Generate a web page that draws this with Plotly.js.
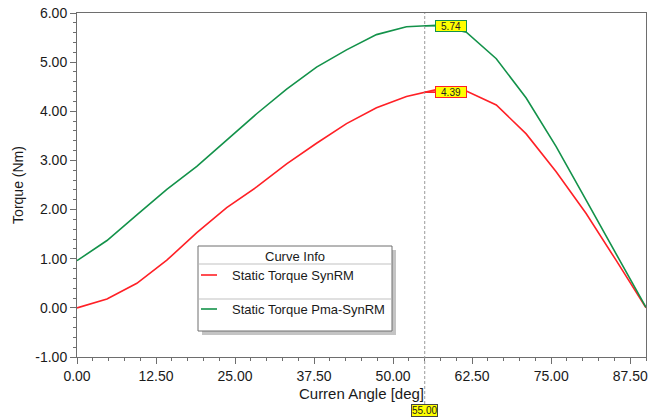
<!DOCTYPE html>
<html>
<head>
<meta charset="utf-8">
<script src="https://cdn.plot.ly/plotly-3.0.1.min.js"></script>
<style>
  html, body { margin: 0; padding: 0; background: #ffffff; }
  #chart { width: 660px; height: 418px; }
</style>
</head>
<body>
<div id="chart"></div>
<script>
// ---- data ----
const angleDeg = [0, 4.74, 9.47, 14.21, 18.95, 23.68, 28.42, 33.16, 37.89, 42.63, 47.37, 52.11, 56.84, 61.58, 66.32, 71.05, 75.79, 80.53, 85.26, 90];
const torqueSynRM = [0, 0.18, 0.50, 0.97, 1.53, 2.04, 2.46, 2.93, 3.35, 3.75, 4.07, 4.30, 4.44, 4.41, 4.13, 3.54, 2.77, 1.92, 0.97, 0];
const torquePmaSynRM = [0.96, 1.37, 1.89, 2.41, 2.88, 3.41, 3.95, 4.45, 4.90, 5.25, 5.56, 5.72, 5.75, 5.61, 5.07, 4.27, 3.28, 2.19, 1.11, 0.01];
const seriesNames = ["Static Torque SynRM", "Static Torque Pma-SynRM"];
const seriesColors = ["#ff2026", "#13924a"];
const cursorAngle = 55;
const cursorValues = [4.39, 5.74];
const legendTitle = "Curve Info";
const xTickVals = [0, 12.5, 25, 37.5, 50, 62.5, 75, 87.5];
const yTickVals = [-1, 0, 1, 2, 3, 4, 5, 6];

// ---- layout helpers ----
const W = 660, H = 418;
const M = {l: 77, r: 14, t: 13, b: 61};
const PW = W - M.l - M.r, PH = H - M.t - M.b;
const px2x = p => (p - M.l) / PW;          // pixel x -> paper x
const py2y = p => (H - M.b - p) / PH;      // pixel y -> paper y

const FONT = "Liberation Sans, Arial, sans-serif";

const traces = [torqueSynRM, torquePmaSynRM].map((ys, i) => ({
  type: "scatter", mode: "lines", x: angleDeg, y: ys, name: seriesNames[i],
  line: {color: seriesColors[i], width: 1.6}, showlegend: false, hoverinfo: "skip"
}));

// legend box (custom drawn, pixel geometry)
const LG = {x0: 198, x1: 392, y0: 246, y1: 331};
const shapes = [
  // cursor line
  {type: "line", xref: "x", yref: "paper", x0: cursorAngle, x1: cursorAngle, y0: py2y(404), y1: 1,
   line: {color: "#9a9a9a", width: 1, dash: "3px,2px"}, layer: "above"},
  // legend shadow
  {type: "rect", xref: "paper", yref: "paper", x0: px2x(LG.x0 + 4), x1: px2x(LG.x1 + 4), y0: py2y(LG.y1 + 4), y1: py2y(LG.y0 + 4),
   fillcolor: "#c4c4c4", line: {width: 0}, layer: "above"},
  // legend box
  {type: "rect", xref: "paper", yref: "paper", x0: px2x(LG.x0), x1: px2x(LG.x1), y0: py2y(LG.y1), y1: py2y(LG.y0),
   fillcolor: "#ffffff", line: {color: "#6e6e6e", width: 1}, layer: "above"},
  // separators
  {type: "line", xref: "paper", yref: "paper", x0: px2x(LG.x0 + 1), x1: px2x(LG.x1 - 1), y0: py2y(264), y1: py2y(264),
   line: {color: "#d6d6d6", width: 1.5}, layer: "above"},
  {type: "line", xref: "paper", yref: "paper", x0: px2x(LG.x0 + 1), x1: px2x(LG.x1 - 1), y0: py2y(299), y1: py2y(299),
   line: {color: "#d6d6d6", width: 1.5}, layer: "above"},
];
const entryY = [275, 309];
entryY.forEach((yy, i) => {
  shapes.push({type: "line", xref: "paper", yref: "paper", x0: px2x(201), x1: px2x(217), y0: py2y(yy), y1: py2y(yy),
    line: {color: seriesColors[i], width: 1.6}, layer: "above"});
});

const annotations = [
  {xref: "paper", yref: "paper", x: px2x((LG.x0 + LG.x1) / 2), y: py2y(256.5), text: legendTitle, showarrow: false,
   xanchor: "center", yanchor: "middle", font: {family: FONT, size: 13, color: "#1a1a1a"}},
];
entryY.forEach((yy, i) => {
  annotations.push({xref: "paper", yref: "paper", x: px2x(230), y: py2y(yy), text: seriesNames[i], showarrow: false,
    xanchor: "left", yanchor: "middle", font: {family: FONT, size: 13, color: "#1a1a1a"}});
});
// cursor value flags
cursorValues.forEach((v, i) => {
  annotations.push({xref: "x", yref: "y", x: cursorAngle, y: v, text: v.toFixed(2), showarrow: true,
    ax: 26, ay: 0, arrowhead: 0, arrowwidth: 1.6, arrowcolor: seriesColors[i], standoff: 0,
    bgcolor: "#ffff00", bordercolor: seriesColors[i], borderwidth: 1, borderpad: 0, width: 30, height: 10,
    font: {family: FONT, size: 10, color: "#222222"}});
});
// cursor x label
annotations.push({xref: "x", yref: "paper", x: cursorAngle, y: py2y(410), text: cursorAngle.toFixed(2), showarrow: false,
  xanchor: "center", yanchor: "middle", bgcolor: "#ffff00", bordercolor: "#444444", borderwidth: 1, borderpad: 0,
  font: {family: FONT, size: 10, color: "#222222"}});

const axisCommon = {
  showline: true, linecolor: "#6e6e6e", linewidth: 1, mirror: true,
  showgrid: false, zeroline: false, ticks: "outside", ticklen: 6, tickwidth: 1, tickcolor: "#6e6e6e",
  tickfont: {family: FONT, size: 14, color: "#1a1a1a"}
};

const layout = {
  width: W, height: H, margin: M, paper_bgcolor: "#ffffff", plot_bgcolor: "#ffffff",
  showlegend: false,
  xaxis: Object.assign({}, axisCommon, {
    range: [0, 90], tickmode: "array", tickvals: xTickVals, ticktext: xTickVals.map(v => v.toFixed(2)),
    minor: {tickmode: "linear", dtick: 2.5, tick0: 0, ticks: "outside", ticklen: 3, tickcolor: "#6e6e6e", showgrid: false},
    title: {text: "Curren Angle [deg]", font: {family: FONT, size: 15, color: "#1a1a1a"}, standoff: 5}
  }),
  yaxis: Object.assign({}, axisCommon, {
    range: [-1, 6], tickmode: "array", tickvals: yTickVals, ticktext: yTickVals.map(v => v.toFixed(2)),
    minor: {tickmode: "linear", dtick: 0.2, tick0: 0, ticks: "outside", ticklen: 3, tickcolor: "#6e6e6e", showgrid: false},
    title: {text: "Torque (Nm)", font: {family: FONT, size: 14, color: "#1a1a1a"}, standoff: 8}
  }),
  shapes: shapes,
  annotations: annotations
};

Plotly.newPlot("chart", traces, layout, {staticPlot: true, displayModeBar: false});
</script>
</body>
</html>
